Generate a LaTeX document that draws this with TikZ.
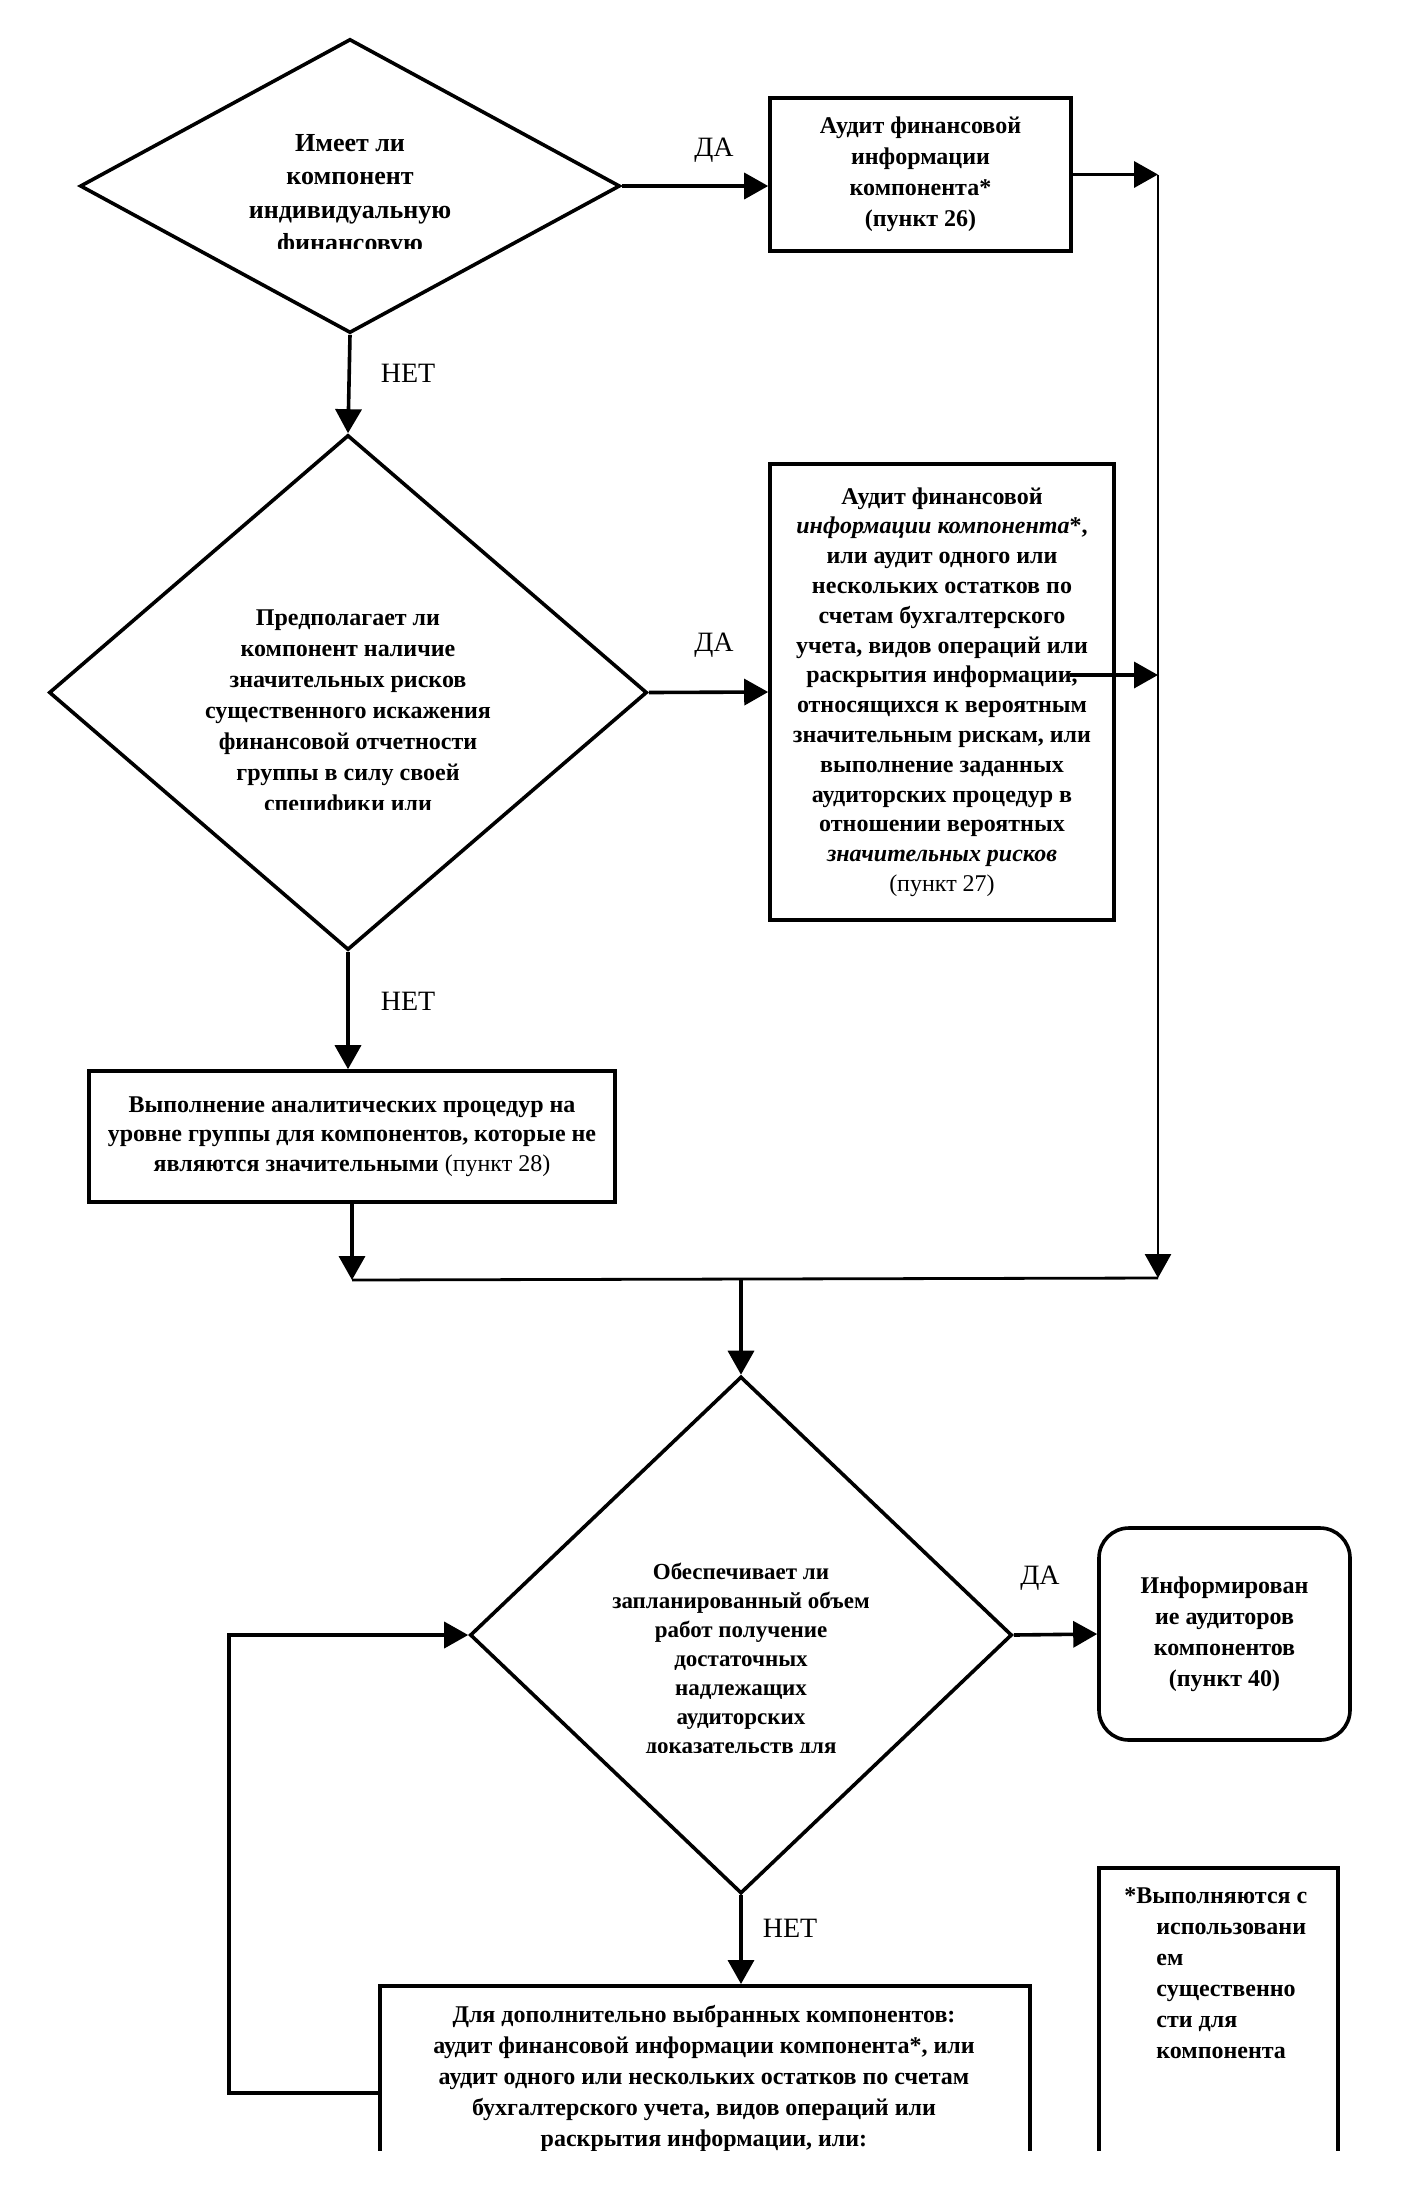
\documentclass[tikz,border=0pt]{standalone}
\usepackage{fontspec}
\setmainfont{Liberation Serif}
\usetikzlibrary{shapes.geometric,arrows.meta}
\begin{document}
\begin{tikzpicture}[x=0.5pt, y=-0.5pt,
    every node/.style={inner sep=0pt},
    stepbox/.style={draw, line width=1.8pt, align=center, font=\bfseries\fontsize{12}{15.5}\selectfont},
    decision/.style={draw, diamond, line width=1.8pt},
    asktext/.style={align=center, anchor=north, font=\bfseries\fontsize{12}{15.5}\selectfont},
    answer/.style={font=\fontsize{14}{17}\selectfont},
    flow/.style={line width=1.8pt, -{Triangle[length=12pt,width=13pt]}}]
				\useasboundingbox (0,0) rectangle (1402,2186);

				\node (HasFin) [decision, minimum width=270pt, minimum height=147pt] at (350,186) {};
				\begin{scope}
					\clip (80,100) rectangle (620,248);
					\node (HasFinText) [asktext, font=\bfseries\fontsize{13}{16.75}\selectfont] at (350,134) {Имеет ли\\компонент\\индивидуальную\\финансовую};
				\end{scope}

				\node (AuditFin) [stepbox, minimum width=150.5pt, minimum height=76.5pt] at (920.5,174.5) {Аудит финансовой\\информации\\компонента*\\(пункт 26)};
				\draw [flow] (HasFin.east) -- (HasFin.east -| AuditFin.west);
				\node (Yes1) [answer] at (714,150) {ДА};

				\node (Risk) [decision, minimum width=299pt, minimum height=257.5pt] at (348,692.5) {};
				\begin{scope}
					\clip (49,590) rectangle (647,809);
					\node (RiskText) [asktext] at (348,609) {Предполагает ли\\компонент наличие\\значительных рисков\\существенного искажения\\финансовой отчетности\\группы в силу своей\\специфики или};
				\end{scope}
				\draw [flow] (HasFin.south) -- (Risk.north);
				\node (No1) [answer] at (408,373) {НЕТ};

				\node (AuditRisk) [stepbox, minimum width=172pt, minimum height=228pt, font=\bfseries\fontsize{12}{14.9}\selectfont] at (942,692) {Аудит финансовой\\\textit{информации компонента}*,\\или аудит одного или\\нескольких остатков по\\счетам бухгалтерского\\учета, видов операций или\\раскрытия информации,\\относящихся к вероятным\\значительным рискам, или\\выполнение заданных\\аудиторских процедур в\\отношении вероятных\\\textit{значительных рисков}\\{\mdseries (пункт 27)}};
				\draw [flow] (Risk.east) -- (AuditRisk.west);
				\node (Yes2) [answer] at (714,645) {ДА};

				\node (Analytic) [stepbox, minimum width=263pt, minimum height=65.5pt, font=\bfseries\fontsize{12}{14.75}\selectfont] at (352,1136.5) {Выполнение аналитических процедур на\\уровне группы для компонентов, которые не\\являются значительными {\mdseries (пункт 28)}};
				\draw [flow] (Risk.south) -- (Risk.south |- Analytic.north);
				\node (No2) [answer] at (408,1001) {НЕТ};

				\coordinate (RightTop) at (1158,174.5);
				\coordinate (RiskOut) at (1070,675);
				\coordinate (RightEnd) at (1158,1278);
				\coordinate (JoinLeft) at (352,1280);
				\coordinate (JoinMid) at (741,1280);
				\draw [flow] (AuditFin.east) -- (RightTop);
				\draw [flow] (RiskOut) -- (RiskOut -| RightTop);
				\draw [flow, line width=1.4pt] (RightTop) -- (RightEnd);
				\draw [line width=1.4pt] (JoinLeft) -- (RightEnd);
				\draw [flow] (Analytic.south) -- (JoinLeft);

				\node (Enough) [decision, minimum width=271pt, minimum height=258.5pt] at (741,1635) {};
				\begin{scope}
					\clip (470,1540) rectangle (1012,1752);
					\node (EnoughText) [asktext, font=\bfseries\fontsize{11.5}{14.5}\selectfont] at (741,1563) {Обеспечивает ли\\запланированный объем\\работ получение\\достаточных\\надлежащих\\аудиторских\\доказательств для};
				\end{scope}
				\draw [flow] (JoinMid) -- (Enough.north);

				\node (Inform) [stepbox, rounded corners=15pt, minimum width=125.5pt, minimum height=106pt] at (1224.5,1634) {Информирован\\ие аудиторов\\компонентов\\(пункт 40)};
				\draw [flow] (Enough.east) -- (Inform.west);
				\node (Yes3) [answer] at (1040,1578) {ДА};

				\begin{scope}
					\clip (0,0) rectangle (1402,2150);
					\node (Extra) [draw, line width=1.8pt, minimum width=325pt, minimum height=150pt, anchor=north] at (705,1984) {};
					\node (ExtraText) [asktext] at (704,2005) {Для дополнительно выбранных компонентов:\\аудит финансовой информации компонента*, или\\аудит одного или нескольких остатков по счетам\\бухгалтерского учета, видов операций или\\раскрытия информации, или:};
					\node (Note) [draw, line width=1.8pt, minimum width=119.5pt, minimum height=200pt, anchor=north] at (1218.5,1866) {};
					\node (NoteText) [align=left, anchor=north west, font=\bfseries\fontsize{12}{15.5}\selectfont] at (1156,1887) {\hspace*{-16pt}*Выполняются с\\использовани\\ем\\существенно\\сти для\\компонента};
				\end{scope}
				\draw [flow] (Enough.south) -- (Enough.south |- Extra.north);
				\node (No3) [answer] at (790,1928) {НЕТ};

				\coordinate (LoopStart) at (380,2093);
				\coordinate (LoopBL) at (229,2093);
				\draw [flow] (LoopStart) -- (LoopBL) -- (Enough.west -| LoopBL) -- (Enough.west);
\end{tikzpicture}
\end{document}
